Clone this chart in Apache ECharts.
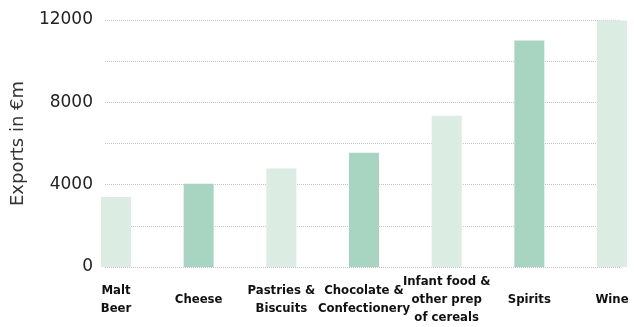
<!DOCTYPE html>
<html>
<head>
<meta charset="utf-8">
<script src="https://cdn.jsdelivr.net/npm/echarts@6/dist/echarts.min.js"></script>
<style>
html,body{margin:0;padding:0;background:#fff;}
#chart{width:634px;height:327px;}
</style>
</head>
<body>
<div id="chart"></div>
<script>
var categories = ['Malt\nBeer', 'Cheese', 'Pastries &\nBiscuits', 'Chocolate &\nConfectionery', 'Infant food &\nother prep\nof cereals', 'Spirits', 'Wine'];
var exportsValues = [3400, 4050, 4780, 5550, 7350, 11000, 11980];
var yTickLabels = [0, 4000, 8000, 12000];

var lightColor = '#dbece3';
var darkColor = '#a8d5c2';

var chart = echarts.init(document.getElementById('chart'));
chart.setOption({
  animation: false,
  grid: [
    { left: 116, right: 22, top: 20, bottom: 60 },
    { left: 105, right: 13, top: 20, bottom: 60 }
  ],
  xAxis: [
    {
      type: 'category', gridIndex: 0, data: categories, boundaryGap: false,
      axisLine: { show: false }, axisTick: { show: false },
      axisLabel: {
        interval: 0, margin: 33, verticalAlign: 'middle',
        fontFamily: '"Liberation Sans Narrow", "DejaVu Sans Condensed", sans-serif',
        fontWeight: 'bold', fontSize: 13, lineHeight: 18, color: '#111'
      }
    },
    {
      type: 'value', gridIndex: 1, show: false
    }
  ],
  yAxis: [
    {
      type: 'value', gridIndex: 0, min: 0, max: 12000, interval: 2000, show: false,
      splitLine: { show: false }
    },
    {
      type: 'value', gridIndex: 1, min: 0, max: 12000, interval: 2000,
      axisLine: { show: false }, axisTick: { show: false },
      splitLine: { show: true, lineStyle: { type: 'dotted', color: '#c4c4c4', width: 1 } },
      axisLabel: {
        margin: 12, fontFamily: '"DejaVu Sans", sans-serif', fontSize: 17, color: '#222',
        formatter: function (v) { return yTickLabels.indexOf(v) >= 0 ? String(v) : ''; }
      },
      name: 'Exports in €m', nameLocation: 'middle', nameRotate: 90, nameGap: 78,
      nameTextStyle: { fontFamily: '"DejaVu Sans", sans-serif', fontSize: 18, color: '#333' }
    }
  ],
  series: [{
    type: 'bar', xAxisIndex: 0, yAxisIndex: 0, barWidth: 30,
    data: exportsValues.map(function (v, i) {
      return { value: v, itemStyle: { color: i % 2 === 0 ? lightColor : darkColor } };
    })
  }]
});
</script>
</body>
</html>
